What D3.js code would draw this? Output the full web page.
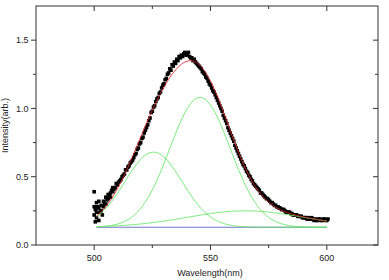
<!DOCTYPE html>
<html>
<head>
<meta charset="utf-8">
<script src="https://cdn.jsdelivr.net/npm/d3@7/dist/d3.min.js"></script>
<style>
  body { margin: 0; background: #fff; }
  text { font-family: "Liberation Sans", Arial, sans-serif; font-size: 9px; fill: #222; }
</style>
</head>
<body>
<svg width="389" height="280"></svg>
<script>
// measured spectrum [wavelength nm, intensity]
var spectrum = [
  [500, 0.28], [500, 0.39], [500, 0.22], [500.5, 0.17], [500.5, 0.26], [501, 0.24], [501, 0.20], [501, 0.31],
  [501.5, 0.28], [502, 0.27], [502, 0.18], [502, 0.32], [502.5, 0.24], [503, 0.25], [503, 0.29], [503.5, 0.22],
  [504, 0.28], [504, 0.32], [504.5, 0.30], [505, 0.30], [505, 0.35], [505.5, 0.33], [506, 0.34], [506, 0.37],
  [506.5, 0.36], [507, 0.38], [507, 0.35], [507.5, 0.40], [508, 0.39], [508, 0.42], [508.5, 0.41],
  [509, 0.42], [509.5, 0.45], [510, 0.44], [510.5, 0.46], [511, 0.47], [511.5, 0.48], [512, 0.50], [512.5, 0.51],
  [513, 0.52], [513.5, 0.55], [514, 0.55], [514.5, 0.57], [515, 0.58], [515.5, 0.60], [516, 0.61], [516.5, 0.62],
  [517, 0.64], [517.5, 0.66], [518, 0.67], [518.5, 0.70], [519, 0.71], [519.5, 0.74], [520, 0.75], [520.5, 0.78],
  [521, 0.79], [521.5, 0.82], [522, 0.84], [522.5, 0.86], [523, 0.88], [523.5, 0.91], [524, 0.93], [524.5, 0.97],
  [525, 0.98], [525.5, 1.01], [526, 1.02], [526.5, 1.05], [527, 1.07], [527.5, 1.08], [528, 1.11], [528.5, 1.12],
  [529, 1.15], [529.5, 1.17], [530, 1.18], [530.5, 1.21], [531, 1.22], [531.5, 1.25], [532, 1.26], [532.5, 1.29],
  [533, 1.28], [533.5, 1.32], [534, 1.31], [534.5, 1.34], [535, 1.33], [535.5, 1.36], [536, 1.35], [536.5, 1.38],
  [537, 1.37], [537.5, 1.39], [538, 1.38], [538.5, 1.40], [539, 1.41], [539.5, 1.39], [540, 1.40], [540.5, 1.41],
  [541, 1.38], [541.5, 1.37], [542, 1.37], [542.5, 1.35], [543, 1.36], [543.5, 1.34], [544, 1.33], [544.5, 1.32],
  [545, 1.31], [545.5, 1.30], [546, 1.29], [546.5, 1.27], [547, 1.26], [547.5, 1.25], [548, 1.23], [548.5, 1.22],
  [549, 1.20], [549.5, 1.18], [550, 1.17], [550.5, 1.15], [551, 1.13], [551.5, 1.12], [552, 1.10], [552.5, 1.08],
  [553, 1.06], [553.5, 1.04], [554, 1.02], [554.5, 1.00], [555, 0.98], [555.5, 0.95], [556, 0.93], [556.5, 0.91],
  [557, 0.89], [557.5, 0.86], [558, 0.84], [558.5, 0.82], [559, 0.80], [559.5, 0.78], [560, 0.76], [560.5, 0.73],
  [561, 0.71], [561.5, 0.69], [562, 0.67], [562.5, 0.65], [563, 0.63], [563.5, 0.61], [564, 0.59], [564.5, 0.58],
  [565, 0.56], [565.5, 0.54], [566, 0.53], [566.5, 0.51], [567, 0.50], [567.5, 0.48], [568, 0.47], [568.5, 0.45],
  [569, 0.44], [569.5, 0.43], [570, 0.42], [570.5, 0.41], [571, 0.40], [571.5, 0.38], [572, 0.38], [572.5, 0.37],
  [573, 0.36], [573.5, 0.35], [574, 0.34], [574.5, 0.34], [575, 0.33], [575.5, 0.32], [576, 0.31], [576.5, 0.31],
  [577, 0.30], [577.5, 0.29], [578, 0.29], [578.5, 0.28], [579, 0.28], [579.5, 0.27], [580, 0.27], [580.5, 0.26],
  [581, 0.26], [581.5, 0.26], [582, 0.25], [582.5, 0.24], [583, 0.24], [583.5, 0.24], [584, 0.24], [584.5, 0.23],
  [585, 0.23], [585.5, 0.22], [586, 0.22], [586.5, 0.22], [587, 0.22], [587.5, 0.21], [588, 0.21], [588.5, 0.21],
  [589, 0.21], [589.5, 0.20], [590, 0.20], [590.5, 0.20], [591, 0.20], [591.5, 0.19], [592, 0.20], [592.5, 0.19],
  [593, 0.19], [593.5, 0.20], [594, 0.19], [594.5, 0.18], [595, 0.19], [595.5, 0.18], [596, 0.18], [596.5, 0.19],
  [597, 0.19], [597.5, 0.18], [598, 0.18], [598.5, 0.19], [599, 0.19], [599.5, 0.18], [600, 0.18], [600.5, 0.19]
];

// gaussian fit parameters
var peakCenter = [525.5, 545.5, 565];
var peakHeight = [0.55, 0.95, 0.12];
var peakWidth = [12.3, 13, 25];
var baseline = 0.13;
var fitRange = [501, 600];

var xTicks = [500, 550, 600];
var xMinor = [525, 575];
var yTicks = [0, 0.5, 1.0, 1.5];
var yMinor = [0.25, 0.75, 1.25];

var svg = d3.select("svg"),
  margin = { left: 36, right: 378, top: 6, bottom: 245 };

var x = d3.scaleLinear().domain([475, 622]).range([margin.left, margin.right]);
var y = d3.scaleLinear().domain([0, 1.75]).range([margin.bottom, margin.top]);

function peak(i, w) {
  var d = w - peakCenter[i];
  return peakHeight[i] * Math.exp(-d * d / (2 * peakWidth[i] * peakWidth[i]));
}

var grid = d3.range(fitRange[0], fitRange[1] + 0.01, 0.5);
var line = d3.line().x(function (d) { return x(d[0]); }).y(function (d) { return y(d[1]); });

// data points
svg.append("g").selectAll("rect")
  .data(spectrum)
  .enter().append("rect")
  .attr("x", function (d) { return x(d[0]) - 1.8; })
  .attr("y", function (d) { return y(d[1]) - 1.8; })
  .attr("width", 3.6)
  .attr("height", 3.6)
  .attr("fill", "#000");

// baseline
svg.append("path")
  .attr("d", line(fitRange.map(function (w) { return [w, baseline]; })))
  .attr("fill", "none").attr("stroke", "#7373cf").attr("stroke-width", 1);

// components
peakCenter.forEach(function (c, i) {
  svg.append("path")
    .attr("d", line(grid.map(function (w) { return [w, baseline + peak(i, w)]; })))
    .attr("fill", "none").attr("stroke", "#66e866").attr("stroke-width", 0.9);
});

// cumulative fit
svg.append("path")
  .attr("d", line(grid.map(function (w) {
    return [w, baseline + peak(0, w) + peak(1, w) + peak(2, w)];
  })))
  .attr("fill", "none").attr("stroke", "#d02828").attr("stroke-width", 0.9);

// frame
var axisColor = "#333";
var L = margin.left, R = margin.right, T = margin.top, B = margin.bottom;
svg.append("rect")
  .attr("x", L).attr("y", T)
  .attr("width", R - L).attr("height", B - T)
  .attr("fill", "none").attr("stroke", axisColor).attr("stroke-width", 1);

var ax = svg.append("g").attr("stroke", axisColor).attr("stroke-width", 1);
xTicks.forEach(function (t) {
  ax.append("line").attr("x1", x(t)).attr("x2", x(t)).attr("y1", B).attr("y2", B + 5);
  ax.append("line").attr("x1", x(t)).attr("x2", x(t)).attr("y1", T).attr("y2", T + 5);
});
xMinor.forEach(function (t) {
  ax.append("line").attr("x1", x(t)).attr("x2", x(t)).attr("y1", B).attr("y2", B + 3);
  ax.append("line").attr("x1", x(t)).attr("x2", x(t)).attr("y1", T).attr("y2", T + 3);
});
yTicks.forEach(function (t) {
  ax.append("line").attr("x1", L - 5).attr("x2", L).attr("y1", y(t)).attr("y2", y(t));
  ax.append("line").attr("x1", R - 5).attr("x2", R).attr("y1", y(t)).attr("y2", y(t));
});
yMinor.forEach(function (t) {
  ax.append("line").attr("x1", L - 3).attr("x2", L).attr("y1", y(t)).attr("y2", y(t));
  ax.append("line").attr("x1", R - 3).attr("x2", R).attr("y1", y(t)).attr("y2", y(t));
});

svg.append("g").selectAll("text")
  .data(xTicks)
  .enter().append("text")
  .attr("x", function (d) { return x(d); })
  .attr("y", 261)
  .attr("text-anchor", "middle")
  .text(function (d) { return d; });

svg.append("g").selectAll("text")
  .data(yTicks)
  .enter().append("text")
  .attr("x", 28.5)
  .attr("y", function (d) { return y(d); })
  .attr("dy", "0.35em")
  .attr("text-anchor", "end")
  .text(d3.format(".1f"));

svg.append("text")
  .attr("x", (L + R) / 2 + 3)
  .attr("y", 276)
  .attr("text-anchor", "middle")
  .text("Wavelength(nm)");

svg.append("text")
  .attr("transform", "translate(8," + ((T + B) / 2) + ") rotate(-90)")
  .attr("text-anchor", "middle")
  .text("Intensity(arb.)");
</script>
</body>
</html>
